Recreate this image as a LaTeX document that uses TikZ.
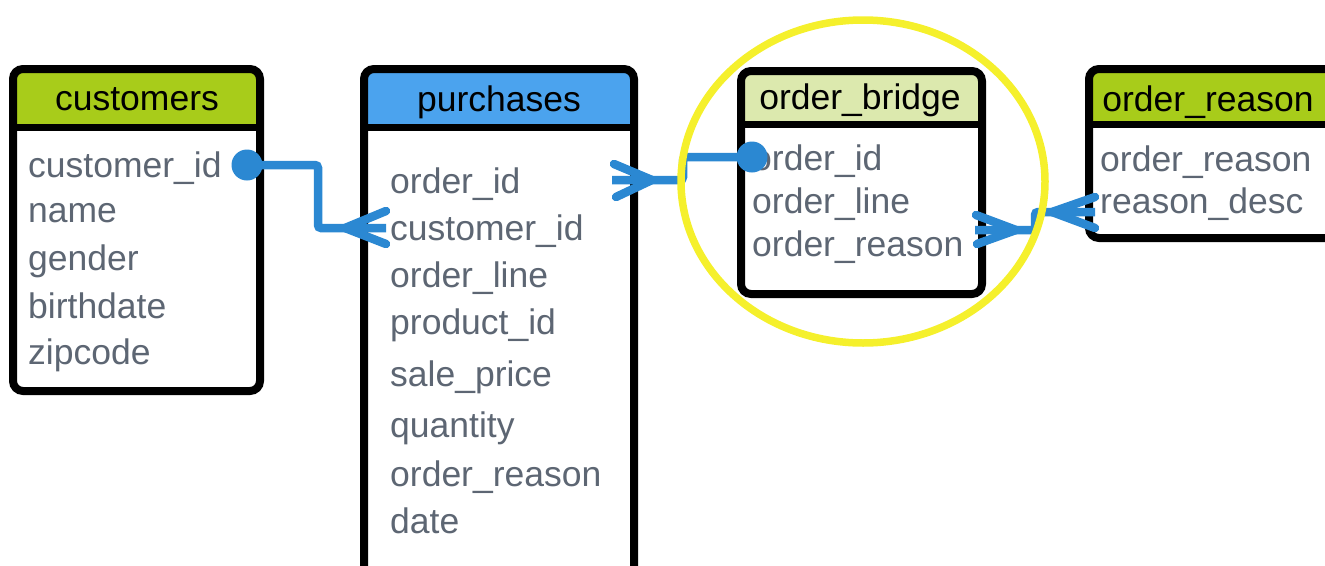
\documentclass[tikz,border=0pt]{standalone}
\usepackage{fontspec}
\setmainfont{Liberation Sans}
\definecolor{hdrlime}{HTML}{A8CC1A}
\definecolor{hdrblue}{HTML}{4BA3EE}
\definecolor{hdrpale}{HTML}{DCE9AE}
\definecolor{fieldgray}{HTML}{5D6673}
\definecolor{linkblue}{HTML}{2B88D2}
\definecolor{hiyellow}{HTML}{F5F02C}
\begin{document}
\begin{tikzpicture}[x=1pt,y=-1pt,
  frame/.style={draw=black,line width=8pt,rounded corners=10pt},
  sep/.style={draw=black,line width=7pt},
  hdr/.style={anchor=base,inner sep=0pt,font=\fontsize{35.5}{40}\selectfont,text=black},
  fld/.style={anchor=base west,inner sep=0pt,font=\fontsize{35.5}{40}\selectfont,text=fieldgray},
  link/.style={draw=linkblue,line width=8.5pt,rounded corners=3pt},
  prong/.style={draw=linkblue,line width=8.5pt,line cap=round},
  dot/.style={circle,fill=linkblue,minimum size=31pt,inner sep=0pt}
]
\useasboundingbox (0,0) rectangle (1325,565);
\clip (0,0) rectangle (1325,565);

% customers
\fill[hdrlime,rounded corners=10pt] (13,69) rectangle (260,391);
\fill[white] (13,127) rectangle (260,391);
\draw[sep] (13,127) -- (260,127);
\draw[frame] (13,69) rectangle (260,391);
\node[hdr] (customers) at (137,110) {customers};
\node[fld] (cu1) at (28,177) {customer\_id};
\node[fld] (cu2) at (28,222) {name};
\node[fld] (cu3) at (28,270) {gender};
\node[fld] (cu4) at (28,318) {birthdate};
\node[fld] (cu5) at (28,364) {zipcode};

% purchases
\fill[hdrblue,rounded corners=10pt] (364,69) rectangle (634,620);
\fill[white] (364,127) rectangle (634,620);
\draw[sep] (364,127) -- (634,127);
\draw[frame] (364,69) rectangle (634,620);
\node[hdr] (purchases) at (499,111) {purchases};
\node[fld] (pu1) at (390,193) {order\_id};
\node[fld] (pu2) at (390,240) {customer\_id};
\node[fld] (pu3) at (390,287) {order\_line};
\node[fld] (pu4) at (390,334) {product\_id};
\node[fld] (pu5) at (390,386) {sale\_price};
\node[fld] (pu6) at (390,437) {quantity};
\node[fld] (pu7) at (390,486) {order\_reason};
\node[fld] (pu8) at (390,533) {date};

% order_bridge
\fill[hdrpale,rounded corners=10pt] (741,71) rectangle (982,294);
\fill[white] (741,124) rectangle (982,294);
\draw[sep] (741,124) -- (982,124);
\draw[frame] (741,71) rectangle (982,294);
\node[hdr] (bridge) at (860,109) {order\_bridge};
\node[fld] (br1) at (752,170) {order\_id};
\node[fld] (br2) at (752,213) {order\_line};
\node[fld] (br3) at (752,256) {order\_reason};

% order_reason
\fill[hdrlime,rounded corners=10pt] (1089,69) rectangle (1345,238);
\fill[white] (1089,124) rectangle (1345,238);
\draw[sep] (1089,124) -- (1345,124);
\draw[frame] (1089,69) rectangle (1345,238);
\node[hdr] (reason) at (1208,111) {order\_reason};
\node[fld] (re1) at (1100,171) {order\_reason};
\node[fld] (re2) at (1100,213) {reason\_desc};

% connector customers -> purchases
\node[dot] (d1) at (247,165) {};
\coordinate (a1) at (345,228);
\coordinate (a1m) at (386,228);
\draw[link] (d1.center) -- ++(71,0) |- (a1m);
\draw[prong] (a1) -- (386,211);
\draw[prong] (a1) -- (386,244);

% connector purchases -> order_bridge
\node[dot] (d2) at (752,157) {};
\coordinate (a2) at (652,180);
\coordinate (a2m) at (612,180);
\draw[link] (d2.center) -- ++(-69,0) |- (a2m);
\draw[prong] (a2) -- (614,164);
\draw[prong] (a2) -- (616,197);

% connector order_bridge <-> order_reason
\coordinate (a3) at (1016,230);
\coordinate (a3m) at (975,230);
\coordinate (a4) at (1052,212);
\coordinate (a4m) at (1095,212);
\draw[link] (a3m) -- (1035,230) |- (a4m);
\draw[prong] (a3) -- (976,215);
\draw[prong] (a3) -- (977,244);
\draw[prong] (a4) -- (1095,197);
\draw[prong] (a4) -- (1095,228);

% highlight
\draw[hiyellow,line width=7.5pt] (863,181.5) ellipse [x radius=182,y radius=161.5];
\end{tikzpicture}
\end{document}
